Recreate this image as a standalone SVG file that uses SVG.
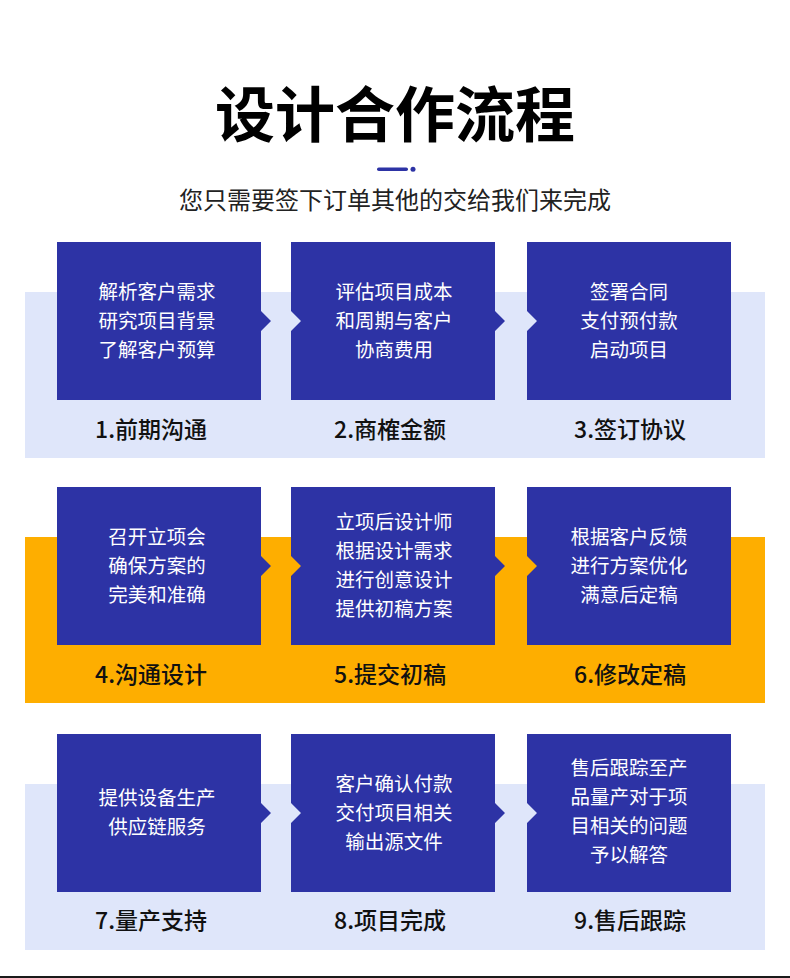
<svg xmlns="http://www.w3.org/2000/svg" width="790" height="978" viewBox="0 0 790 978">
<style>
.band-l{fill:#dfe6fa}
.band-o{fill:#feae00}
.box{fill:#2d33a5}
.bt{fill:#ffffff;font-family:"Noto Sans CJK SC","Noto Sans",sans-serif;font-size:19.5px;text-anchor:middle}
.lb{fill:#111111;font-family:"Noto Sans CJK SC","Noto Sans",sans-serif;font-size:23px;font-weight:500;text-anchor:middle}
</style>
<rect width="790" height="978" fill="#ffffff"/>
<g id="header">
<text x="395" y="137" text-anchor="middle" font-family="'Noto Sans CJK SC',sans-serif" font-size="60" font-weight="700" fill="#000000">设计合作流程</text>
<rect x="377" y="167.5" width="31" height="3.5" rx="1.75" fill="#2d33a5"/>
<circle cx="413" cy="169.25" r="2.5" fill="#2d33a5"/>
<text x="395" y="209" text-anchor="middle" font-family="'Noto Sans CJK SC',sans-serif" font-size="24" fill="#222222">您只需要签下订单其他的交给我们来完成</text>
</g>
<g id="bands">
<rect class="band-l" x="25" y="292" width="740" height="166"/>
<rect class="band-o" x="25" y="537" width="740" height="166"/>
<rect class="band-l" x="25" y="784" width="740" height="166"/>
</g>
<g id="step1">
<polygon class="box" points="57,242 261,242 261,311 271,321 261,331 261,400 57,400"/>
<text class="bt" x="157" y="299">解析客户需求</text>
<text class="bt" x="157" y="328">研究项目背景</text>
<text class="bt" x="157" y="357">了解客户预算</text>
<text class="lb" x="151" y="438">1.前期沟通</text>
</g>
<g id="step2">
<polygon class="box" points="291,242 495,242 495,311 505,321 495,331 495,400 291,400 291,331 301,321 291,311"/>
<text class="bt" x="394" y="299">评估项目成本</text>
<text class="bt" x="394" y="328">和周期与客户</text>
<text class="bt" x="394" y="357">协商费用</text>
<text class="lb" x="390" y="438">2.商榷金额</text>
</g>
<g id="step3">
<polygon class="box" points="527,242 731,242 731,400 527,400 527,331 537,321 527,311"/>
<text class="bt" x="629" y="299">签署合同</text>
<text class="bt" x="629" y="328">支付预付款</text>
<text class="bt" x="629" y="357">启动项目</text>
<text class="lb" x="630" y="438">3.签订协议</text>
</g>
<g id="step4">
<polygon class="box" points="57,487 261,487 261,556 271,566 261,576 261,645 57,645"/>
<text class="bt" x="157" y="544">召开立项会</text>
<text class="bt" x="157" y="573">确保方案的</text>
<text class="bt" x="157" y="602">完美和准确</text>
<text class="lb" x="151" y="683">4.沟通设计</text>
</g>
<g id="step5">
<polygon class="box" points="291,487 495,487 495,556 505,566 495,576 495,645 291,645 291,576 301,566 291,556"/>
<text class="bt" x="394" y="529">立项后设计师</text>
<text class="bt" x="394" y="558">根据设计需求</text>
<text class="bt" x="394" y="587">进行创意设计</text>
<text class="bt" x="394" y="616">提供初稿方案</text>
<text class="lb" x="390" y="683">5.提交初稿</text>
</g>
<g id="step6">
<polygon class="box" points="527,487 731,487 731,645 527,645 527,576 537,566 527,556"/>
<text class="bt" x="629" y="544">根据客户反馈</text>
<text class="bt" x="629" y="573">进行方案优化</text>
<text class="bt" x="629" y="602">满意后定稿</text>
<text class="lb" x="630" y="683">6.修改定稿</text>
</g>
<g id="step7">
<polygon class="box" points="57,734 261,734 261,803 271,813 261,823 261,892 57,892"/>
<text class="bt" x="157" y="805">提供设备生产</text>
<text class="bt" x="157" y="834">供应链服务</text>
<text class="lb" x="151" y="929">7.量产支持</text>
</g>
<g id="step8">
<polygon class="box" points="291,734 495,734 495,803 505,813 495,823 495,892 291,892 291,823 301,813 291,803"/>
<text class="bt" x="394" y="791">客户确认付款</text>
<text class="bt" x="394" y="820">交付项目相关</text>
<text class="bt" x="394" y="849">输出源文件</text>
<text class="lb" x="390" y="929">8.项目完成</text>
</g>
<g id="step9">
<polygon class="box" points="527,734 731,734 731,892 527,892 527,823 537,813 527,803"/>
<text class="bt" x="629" y="775">售后跟踪至产</text>
<text class="bt" x="629" y="804">品量产对于项</text>
<text class="bt" x="629" y="833">目相关的问题</text>
<text class="bt" x="629" y="862">予以解答</text>
<text class="lb" x="630" y="929">9.售后跟踪</text>
</g>
<g id="connectors"></g>
<rect x="0" y="976" width="790" height="2" fill="#1a1a1a"/>
</svg>
